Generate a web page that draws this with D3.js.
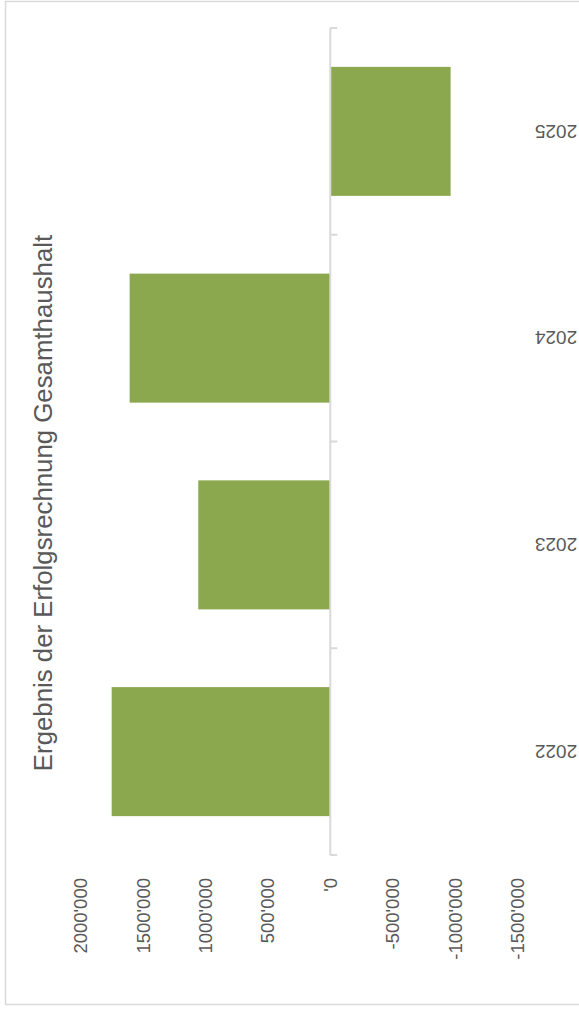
<!DOCTYPE html>
<html><head><meta charset="utf-8">
<script src="https://cdn.jsdelivr.net/npm/d3@7"></script>
<style>body{margin:0;background:#fff}svg{display:block}text{font-family:"Liberation Sans",Arial,sans-serif}</style>
</head><body>
<script>
const categories = ["2022", "2023", "2024", "2025"];
const values = [1752000, 1058000, 1608000, -964000];
const tickValues = [2000000, 1500000, 1000000, 500000, 0, -500000, -1000000, -1500000];
const tickLabels = ["2000'000", "1500'000", "1000'000", "500'000", "'0", "-500'000", "-1000'000", "-1500'000"];
const title = "Ergebnis der Erfolgsrechnung Gesamthaushalt";

const W = 579, H = 1012;
const svg = d3.select("body").append("svg").attr("width", W).attr("height", H);

svg.append("rect").attr("x", 5.5).attr("y", 1.5).attr("width", 600).attr("height", 1003)
  .attr("fill", "#fff").attr("stroke", "#d9d9d9").attr("stroke-width", 1.5);

const x = d3.scaleLinear().domain([-1500000, 2000000]).range([517.5, 80.7]);
const y = d3.scaleBand().domain(categories.slice().reverse()).range([28, 855])
  .paddingInner(0.376).paddingOuter(0.188);

const g = svg.append("g");
g.selectAll("rect.bar").data(categories).join("rect").attr("class", "bar")
  .attr("x", (d, i) => Math.min(x(0), x(values[i])))
  .attr("width", (d, i) => Math.abs(x(values[i]) - x(0)))
  .attr("y", d => y(d)).attr("height", y.bandwidth())
  .attr("fill", "#8ba84f");

// category axis (zero line with ticks to the right)
const x0 = x(0);
const step = y.step();
const bounds = d3.range(categories.length + 1).map(i => 28 + i * step);
g.append("line").attr("x1", x0).attr("x2", x0).attr("y1", 28).attr("y2", 855)
  .attr("stroke", "#d9d9d9").attr("stroke-width", 2);
g.selectAll("line.tk").data(bounds).join("line").attr("class", "tk")
  .attr("x1", x0).attr("x2", x0 + 7).attr("y1", d => d).attr("y2", d => d)
  .attr("stroke", "#d9d9d9").attr("stroke-width", 2);

// category labels (upside down)
g.selectAll("text.cat").data(categories).join("text").attr("class", "cat")
  .attr("transform", d => `translate(556,${y(d) + y.bandwidth() / 2}) rotate(180)`)
  .attr("text-anchor", "middle").attr("dy", "0.35em")
  .attr("font-size", 19).attr("fill", "#595959").text(d => d);

// value tick labels
g.selectAll("text.val").data(tickValues).join("text").attr("class", "val")
  .attr("transform", (d) => `translate(${x(d)},878) rotate(-90)`)
  .attr("text-anchor", "end").attr("dy", "0.35em")
  .attr("font-size", 18.5).attr("fill", "#595959")
  .text((d, i) => tickLabels[i]);

// title
svg.append("text")
  .attr("transform", "translate(43,503) rotate(-90)")
  .attr("text-anchor", "middle").attr("dy", "0.35em")
  .attr("font-size", 25.8).attr("fill", "#595959").text(title);
</script>
</body></html>
